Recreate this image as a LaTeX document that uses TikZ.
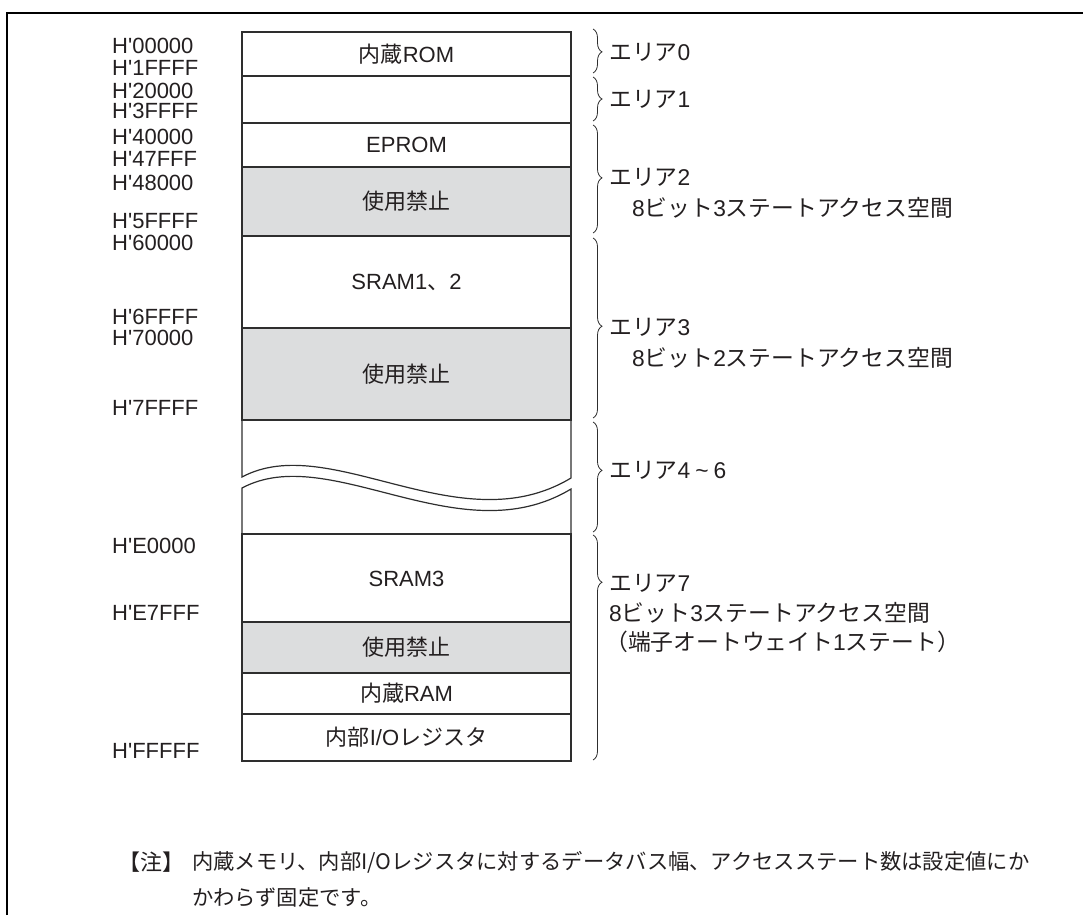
\documentclass[tikz,border=0pt]{standalone}
\usepackage{fontspec}
\setmainfont{Liberation Sans}
\newfontfamily\jp{Noto Sans CJK JP}
\usepackage{xcolor}
\definecolor{lineaMapa}{HTML}{2E2E2E}
\definecolor{grisMapa}{HTML}{DCDDDE}
\definecolor{textoMapa}{HTML}{231F20}
\usetikzlibrary{decorations.pathreplacing}

\tikzset{
  bloque/.style={draw=lineaMapa,line width=1.2pt,minimum width=329pt,
    minimum height=#1,inner sep=0pt},
  prohibido/.style={bloque=#1,fill=grisMapa},
  direccion/.style={anchor=west,inner sep=0pt},
  etiqueta/.style={anchor=west,inner sep=0pt,font=\fontsize{22.8}{26}\selectfont},
  llave/.style={decorate,decoration={brace,amplitude=9pt,aspect=#1},
    draw=lineaMapa,line width=0.8pt},
}

\begin{document}
\begin{tikzpicture}[x=1pt,y=-1pt,font=\fontsize{22}{26}\selectfont,text=textoMapa]
\useasboundingbox (0,0) rectangle (1083,915);

% Marco
\draw[line width=2pt] (7,915) -- (7,13) -- (1083,13);

% Bloques del mapa
\node[bloque=44pt]    (rom)    at (406.5,54)    {{\jp 内蔵}ROM};
\node[bloque=47pt]    (area1)  at (406.5,99.5)  {};
\node[bloque=44pt]    (eprom)  at (406.5,145)   {EPROM};
\node[prohibido=69pt] (proh1)  at (406.5,201.5) {\jp 使用禁止};
\node[bloque=92pt]    (sram12) at (406.5,282)   {SRAM1{\jp 、}2};
\node[prohibido=92pt] (proh2)  at (406.5,374)   {\jp 使用禁止};
\node[bloque=89pt]    (sram3)  at (406.5,578.5) {SRAM3};
\node[prohibido=51pt] (proh3)  at (406.5,647.5) {\jp 使用禁止};
\node[bloque=41pt]    (ram)    at (406.5,693.5) {{\jp 内蔵}RAM};
\node[bloque=47pt]    (io)     at (406.5,737.5) {{\jp 内部}I/O{\jp レジスタ}};

% Corte de las areas 4-6
\draw[lineaMapa,line width=1.2pt]
  (242,420) -- (242,477)
  .. controls (330,430) and (460,545) .. (571,478)
  -- (571,420);
\draw[lineaMapa,line width=1.2pt]
  (242,533) -- (242,488)
  .. controls (330,441) and (460,556) .. (571,489)
  -- (571,533);

% Direcciones
\foreach \y/\a in {46/00000,68/1FFFF,91/20000,111/3FFFF,137/40000,
    159/47FFF,183/48000,221/5FFFF,243/60000,317/6FFFF,338/70000,
    408/7FFFF,546/E0000,613/E7FFF,751/FFFFF}
  \node[direccion] (d\a) at (112,\y) {H\textquotesingle\a};

% Llaves
\foreach \ya/\yb/\asp in {29/73/0.52,77/121/0.5,125/233/0.49,
    238/418/0.49,422/532/0.44,535/760/0.21}
  \draw[llave=\asp] (593,\ya) -- (593,\yb);

% Areas
\node[etiqueta] (e0)  at (609,52)  {{\jp エリア}0};
\node[etiqueta] (e1)  at (609,99)  {{\jp エリア}1};
\node[etiqueta] (e2)  at (609,177) {{\jp エリア}2};
\node[etiqueta] (e2b) at (632,208) {8{\jp ビット}3{\jp ステートアクセス空間}};
\node[etiqueta] (e3)  at (609,327) {{\jp エリア}3};
\node[etiqueta] (e3b) at (632,358) {8{\jp ビット}2{\jp ステートアクセス空間}};
\node[etiqueta] (e4)  at (609,470)
  {{\jp エリア}4\hspace{5pt}\textasciitilde\hspace{5pt}6};
\node[etiqueta] (e7)  at (609,583) {{\jp エリア}7};
\node[etiqueta] (e7b) at (609,613) {8{\jp ビット}3{\jp ステートアクセス空間}};
\node[etiqueta] (e7c) at (605,642) {{\jp （端子オートウェイト}1{\jp ステート）}};

% Nota
\node[etiqueta,font=\fontsize{22}{26}\selectfont] (notatit) at (118,862) {\jp 【注】};
\node[etiqueta,font=\fontsize{21.3}{26}\selectfont] (nota1) at (192,862)
  {\jp 内蔵メモリ、内部I/Oレジスタに対するデータバス幅、アクセスステート数は設定値にか};
\node[etiqueta,font=\fontsize{21.3}{26}\selectfont] (nota2) at (192,897)
  {\jp かわらず固定です。};

\end{tikzpicture}
\end{document}
